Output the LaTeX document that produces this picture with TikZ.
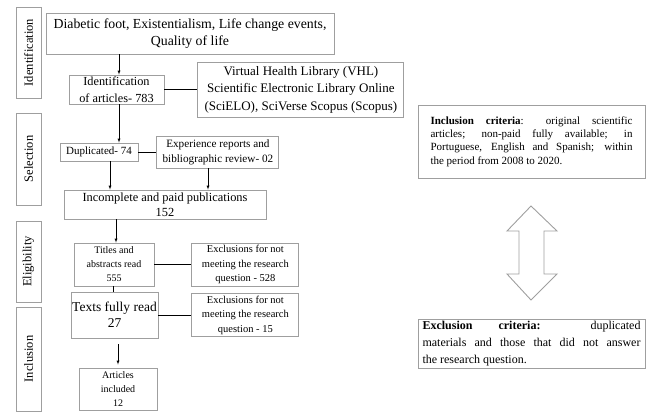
\documentclass[tikz,border=0pt]{standalone}
\usepackage{fontspec}
\setmainfont{Liberation Serif}
\usetikzlibrary{positioning}

\begin{document}
\begin{tikzpicture}[x=1pt, y=-1pt, >=latex,
            squarednode/.style={rectangle, draw=gray!75, line width=0.9pt, align=center, inner sep=1pt},
            sidenode/.style={rectangle, draw=gray!75, line width=0.9pt, rotate=90, inner sep=0pt, font=\fontsize{12.5}{14}\selectfont},
            critnode/.style={rectangle, draw=gray!75, line width=0.9pt, align=justify, inner sep=0pt, minimum width=227pt},
            ]
            \useasboundingbox (0,0) rectangle (652,412);

            %Stage labels
            \node[sidenode, minimum width=91pt, minimum height=25pt]  (sid)  at (28.5,52.5)  {Identification};
            \node[sidenode, minimum width=92pt, minimum height=25pt]  (ssel) at (28.5,159)   {Selection};
            \node[sidenode, minimum width=81pt, minimum height=25pt]  (selg) at (28.5,261.5) {Eligibility};
            \node[sidenode, minimum width=104pt, minimum height=25pt] (sinc) at (28.5,359)   {Inclusion};

            %Nodes
            \node[squarednode, minimum width=288pt, minimum height=41pt, font=\fontsize{13.8}{17}\selectfont] (kw) at (190,33.5)
                {Diabetic foot, Existentialism, Life change events,\\ Quality of life};
            \node[squarednode, minimum width=95pt, minimum height=29pt, font=\fontsize{12.3}{17}\selectfont] (ident) at (116.5,89.5)
                {Identification\\ of articles- 783};
            \node[squarednode, minimum width=206pt, minimum height=55pt, font=\fontsize{13}{17.5}\selectfont] (vhl) [right=33pt of ident]
                {Virtual Health Library (VHL)\\ Scientific Electronic Library Online\\ (SciELO), SciVerse Scopus (Scopus)};
            \node[squarednode, minimum width=78pt, minimum height=18pt, font=\fontsize{11}{12}\selectfont] (dup) at (99,152)
                {Duplicated- 74};
            \node[squarednode, minimum width=122pt, minimum height=32pt, font=\fontsize{11.2}{15}\selectfont] (exp) [right=18pt of dup]
                {Experience reports and\\ bibliographic review- 02};
            \node[squarednode, minimum width=202pt, minimum height=29pt, font=\fontsize{12.4}{15}\selectfont] (paid) at (165,204.5)
                {Incomplete and paid publications\\ 152};
            \node[squarednode, minimum width=80pt, minimum height=43pt, font=\fontsize{10}{14}\selectfont] (titl) at (114,264.5)
                {Titles and\\ abstracts read\\ 555};
            \node[squarednode, minimum width=107pt, minimum height=43pt, font=\fontsize{10.5}{14.5}\selectfont] (exq) [right=37pt of titl]
                {Exclusions for not\\ meeting the research\\ question - 528};
            \node[squarednode, minimum width=87pt, minimum height=46pt, font=\fontsize{13.5}{16}\selectfont] (full) at (114.5,315)
                {Texts fully read\\ 27};
            \node[squarednode, minimum width=107pt, minimum height=43pt, font=\fontsize{10.5}{14.5}\selectfont] (exf) [right=33pt of full]
                {Exclusions for not\\ meeting the research\\ question - 15};
            \node[squarednode, minimum width=78pt, minimum height=42pt, font=\fontsize{10}{14}\selectfont] (art) at (118,389)
                {Articles\\ included\\ 12};

            \node[critnode, minimum height=73pt, font=\fontsize{11}{13.3}\selectfont] (incc) at (531.5,141.5)
                {\parbox{202pt}{\textbf{Inclusion criteria}: original scientific\linebreak articles; non-paid fully available; in\linebreak Portuguese, English and Spanish; within\linebreak the period from 2008 to 2020.}};
            \node[critnode, minimum height=49pt, font=\fontsize{12}{17}\selectfont] (excc) at (531.5,343.5)
                {\parbox{218pt}{\textbf{Exclusion criteria:} duplicated\linebreak materials and those that did not answer\linebreak the research question.}};

            %Double arrow
            \draw[gray!75, line width=0.9pt] (531,206) -- (557,231) -- (544,231) -- (544,274) -- (557,274) -- (531,300)
                -- (507,274) -- (519,274) -- (519,231) -- (507,231) -- cycle;

            %Lines
            \draw[->] (kw.south -| 119,0) -- (ident.north -| 119,0);
            \draw (ident.east) -- (vhl.west);
            \draw[->] (ident.south -| 119,0) -- (dup.north -| 119,0);
            \draw (dup.east) -- (exp.west);
            \draw[->] (dup.south -| 110,0) -- (paid.north -| 110,0);
            \draw[->] (exp.south -| 208,0) -- (paid.north -| 208,0);
            \draw[->] (paid.south -| 116,0) -- (titl.north -| 116,0);
            \draw (titl.east) -- (exq.west);
            \draw (titl.south -| 113,0) -- (full.north -| 113,0);
            \draw (full.east) -- (exf.west);
            \draw[->, shorten <=6pt, shorten >=3pt] (full.south -| 118,0) -- (art.north -| 118,0);

        \end{tikzpicture}
\end{document}
